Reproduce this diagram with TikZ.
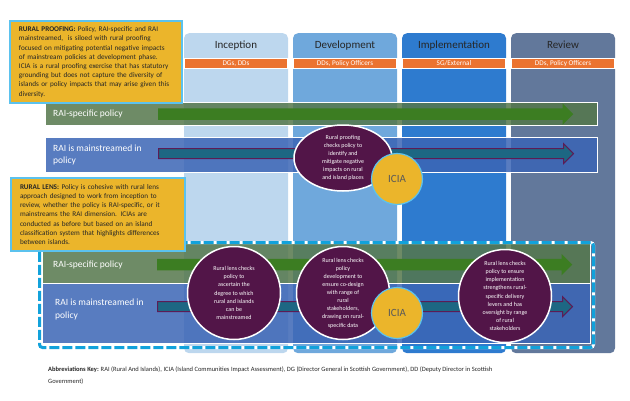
\documentclass[tikz,border=0pt]{standalone}
\usepackage{fontspec}
\setmainfont{Carlito}
\usetikzlibrary{positioning, shapes.arrows, shapes.geometric}

\definecolor{inception}{HTML}{BDD7EE}
\definecolor{development}{HTML}{6FA8DC}
\definecolor{implementation}{HTML}{2E7BCF}
\definecolor{review}{HTML}{62789B}
\definecolor{rolebar}{HTML}{EB7330}
\definecolor{gold}{HTML}{EBB52B}
\definecolor{notesky}{HTML}{5BC2EE}
\definecolor{dashblue}{HTML}{12A2DB}
\definecolor{plum}{HTML}{521548}
\definecolor{rowgreen}{HTML}{55774B}
\definecolor{rowblue}{HTML}{3B65B5}
\definecolor{arrowgreen}{HTML}{3C7D22}
\definecolor{arrowteal}{HTML}{1D6783}
\definecolor{arrowplum}{HTML}{5C1C55}

\begin{document}
\begin{tikzpicture}[
	x = 1pt, y = -1pt, % one unit per pixel, y running down
	inner sep = 0pt,
	font = \fontsize{7}{9}\selectfont
	]

	\tikzstyle{column}=[
	anchor = north,
	minimum width = 104pt,
	minimum height = 320pt,
	rounded corners = 5pt
	]
	\tikzstyle{header}=[font = \fontsize{11}{13}\selectfont, text = black!85]
	\tikzstyle{band}=[
	fill = rolebar,
	draw = white,
	line width = 1.2pt,
	minimum width = 104pt,
	minimum height = 10pt,
	text = white,
	font = \fontsize{7.2}{9}\selectfont
	]
	\tikzstyle{policyrow}=[
	anchor = north west,
	draw = white,
	line width = 1.2pt,
	fill opacity = 0.85
	]
	\tikzstyle{rowlabel}=[text = white, align = left, font = \fontsize{9.5}{12.5}\selectfont]
	\tikzstyle{greenarrow}=[
	single arrow,
	anchor = west,
	fill = arrowgreen,
	inner ysep = 5.5pt,
	single arrow head extend = 5pt,
	minimum height = 415pt
	]
	\tikzstyle{tealarrow}=[
	single arrow,
	anchor = west,
	fill = arrowteal,
	draw = arrowplum,
	line width = 1pt,
	inner ysep = 4.5pt,
	single arrow head extend = 5pt,
	minimum height = 415pt
	]
	\tikzstyle{check}=[
	circle,
	fill = plum,
	draw = white,
	line width = 1.5pt,
	text = white,
	align = center,
	minimum size = 93pt,
	font = \fontsize{6}{8.1}\selectfont
	]
	\tikzstyle{icia}=[
	circle,
	fill = gold,
	draw = notesky,
	line width = 1.2pt,
	minimum size = 51pt,
	text = black!65,
	font = \fontsize{11}{13}\selectfont
	]
	\tikzstyle{note}=[
	anchor = north west,
	fill = gold,
	draw = notesky,
	line width = 2pt,
	inner xsep = 9pt,
	align = left,
	text = black!85,
	font = \fontsize{7.2}{9.2}\selectfont
	]

	\useasboundingbox (0,0) rectangle (630,400);

	% stage columns
	\node[column, fill=inception] (inc) at (236,33) {};
	\node[column, fill=development] (dev) at (345,33) {};
	\node[column, fill=implementation] (imp) at (454,33) {};
	\node[column, fill=review] (rev) at (563,33) {};

	\node[header, below=8pt of inc.north] {Inception};
	\node[header, below=8pt of dev.north] {Development};
	\node[header, below=8pt of imp.north] {Implementation};
	\node[header, below=8pt of rev.north] {Review};

	\node[band, below=25pt of inc.north] (incB) {DGs, DDs};
	\node[band, below=25pt of dev.north] (devB) {DDs, Policy Officers};
	\node[band, below=25pt of imp.north] (impB) {SG/External};
	\node[band, below=25pt of rev.north] (revB) {DDs, Policy Officers};

	% rural proofing rows
	\node[policyrow, fill=rowgreen, minimum width=552pt, minimum height=23pt] (r1) at (45,102) {};
	\node[policyrow, fill=rowblue, minimum width=552pt, minimum height=35pt] (r2) at (45,137) {};
	\node[rowlabel, right=8pt of r1.west] {RAI-specific policy};
	\node[rowlabel, right=8pt of r2.west] {RAI is mainstreamed in\\policy};
	\node[greenarrow, right=113pt of r1.west] (ga1) {};
	\node[tealarrow, right=113pt of r2.west, yshift=1.5pt] (ta1) {};

	\node[check, ellipse, minimum width=98pt, minimum height=66pt] (proof) at (343,158)
		{Rural proofing\\checks policy to\\identify and\\mitigate negative\\impacts on rural\\and island places};
	\node[icia] (icia1) at (397,179) {ICIA};

	% rural lens rows
	\node[policyrow, fill=rowgreen, minimum width=548pt, minimum height=41pt] (r3) at (42,242) {};
	\node[policyrow, fill=rowblue, minimum width=548pt, minimum height=60pt] (r4) at (42,283) {};
	\node[draw=dashblue, line width=3pt, dash pattern=on 10pt off 3pt, rounded corners=3pt,
		preaction={draw=white, line width=3pt, solid},
		anchor=north west, minimum width=554pt, minimum height=105pt] (lens) at (38,241) {};
	\node[rowlabel, right=11pt of r3.west, yshift=-2pt] {RAI-specific policy};
	\node[rowlabel, right=13pt of r4.west, yshift=4pt] {RAI is mainstreamed in\\policy};
	\node[greenarrow, right=115pt of r3.west, yshift=-1.5pt] (ga2) {};
	\node[tealarrow, right=115pt of r4.west, yshift=7pt] (ta2) {};

	\node[check] (ascertain) at (234,293)
		{Rural lens checks\\policy to\\ascertain the\\degree to which\\rural and islands\\can be\\mainstreamed};
	\node[check] (codesign) at (343,293)
		{Rural lens checks\\policy\\development to\\ensure co-design\\with range of\\rural\\stakeholders,\\drawing on rural-\\specific data};
	\node[icia] (icia2) at (397,313) {ICIA};
	\node[check] (delivery) at (505,296)
		{Rural lens checks\\policy to ensure\\implementation\\strengthens rural-\\specific delivery\\levers and has\\oversight by range\\of rural\\stakeholders};

	% notes
	\node[note, text width=154pt, minimum height=82pt] (proofing) at (9,20)
		{\textbf{RURAL PROOFING:} Policy, RAI-specific and RAI\\
		mainstreamed,\ \ is siloed with rural proofing\\
		focused on mitigating potential negative impacts\\
		of mainstream policies at development phase.\\
		ICIA is a rural proofing exercise that has statutory\\
		grounding but does not capture the diversity of\\
		islands or policy impacts that may arise given this\\
		diversity.};
	\node[note, text width=156pt, minimum height=73pt] (ruralLens) at (10,177)
		{\textbf{RURAL LENS:} Policy is cohesive with rural lens\\
		approach designed to work from inception to\\
		review, whether the policy is RAI-specific, or it\\
		mainstreams the RAI dimension. ICIAs are\\
		conducted as before but based on an island\\
		classification system that highlights differences\\
		between islands.};

	\node[anchor=north west, align=left, text=black!85, font=\fontsize{6.5}{11.5}\selectfont] (key) at (48,367)
		{\textbf{Abbreviations Key:} RAI (Rural And Islands), ICIA (Island Communities Impact Assessment), DG (Director General in Scottish Government), DD (Deputy Director in Scottish\\Government)};

\end{tikzpicture}
\end{document}
